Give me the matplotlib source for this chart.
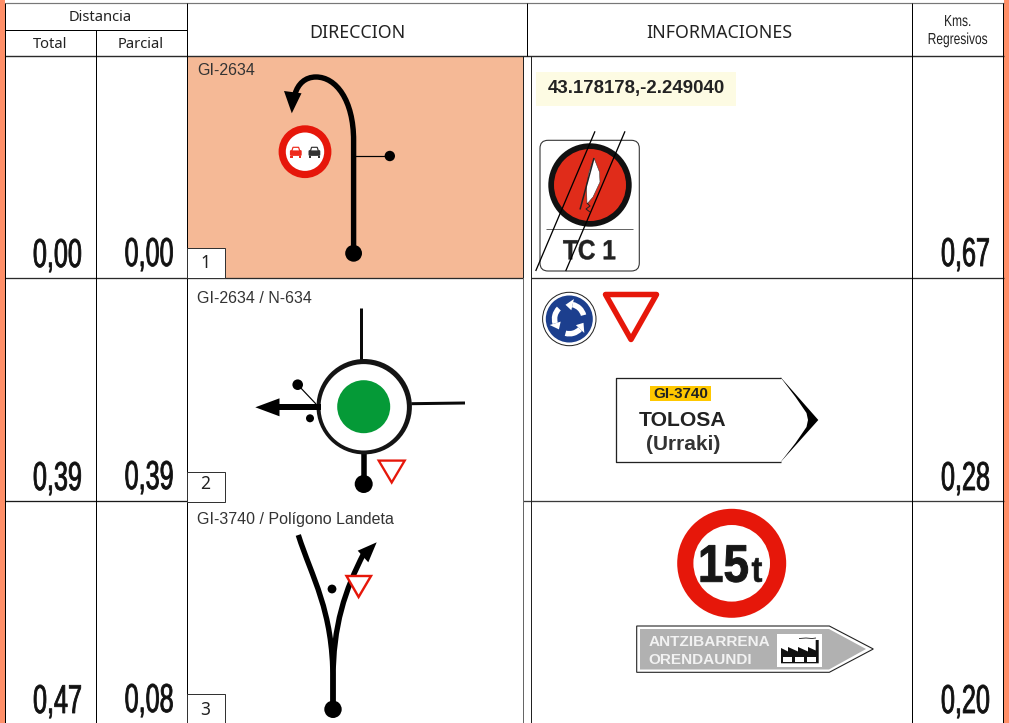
import numpy as np
import matplotlib
matplotlib.use('Agg')
import matplotlib.pyplot as plt
from matplotlib.patches import Circle, Rectangle, Polygon, PathPatch, FancyBboxPatch, Wedge
from matplotlib.path import Path
from matplotlib.patheffects import AbstractPathEffect
from matplotlib.transforms import Affine2D

# valores de la tabla
totales = ['0,00', '0,39', '0,47']
parciales = ['0,00', '0,39', '0,08']
regresivos = ['0,67', '0,28', '0,20']
numeros = ['1', '2', '3']
carreteras = ['GI-2634', 'GI-2634 / N-634', 'GI-3740 / Polígono Landeta']
coordenadas = '43.178178,-2.249040'
cabecera_dist = ['Distancia', 'Total', 'Parcial']
cabecera = ['DIRECCION', 'INFORMACIONES']
cabecera_kms = ['Kms.', 'Regresivos']
cartel_1 = ['GI-3740', 'TOLOSA', '(Urraki)']
cartel_2 = ['ANTZIBARRENA', 'ORENDAUNDI']
senal_tc = 'TC 1'
limite = ['15', 't']

ROJO = '#E6170A'
NEGRO = '#000000'
TEXTO = '#222222'
SANS = 'Liberation Sans'
HEAD = 'Noto Sans'


class Estrecho(AbstractPathEffect):
    # estrecha el texto en horizontal respecto a su centro (la fuente original es condensada)
    def __init__(self, sx, cx, grueso=0.0):
        super().__init__()
        self.sx = sx
        self.cx = cx
        self.grueso = grueso

    def draw_path(self, renderer, gc, tpath, affine, rgbFace=None):
        tr = affine + Affine2D().translate(-self.cx, 0).scale(self.sx, 1).translate(self.cx, 0)
        gc0 = renderer.new_gc()
        gc0.copy_properties(gc)
        if self.grueso > 0:
            gc0.set_linewidth(self.grueso)
            gc0.set_foreground(rgbFace)
        renderer.draw_path(gc0, tpath, tr, rgbFace)
        gc0.restore()


def px(v):
    return v * 0.72


fig = plt.figure(figsize=(10.09, 7.23), dpi=100, facecolor='white')
ax = fig.add_axes([0, 0, 1, 1])
ax.set_xlim(0, 1009)
ax.set_ylim(723, 0)
ax.axis('off')


def linea(xs, ys, lw=1.0, color=NEGRO, z=3, cap='butt'):
    ax.plot(xs, ys, color=color, lw=px(lw), solid_capstyle=cap, zorder=z)


def punto(x, y, r, color=NEGRO, z=6):
    ax.add_patch(Circle((x, y), r, fc=color, ec='none', zorder=z))


def poly(pts, fc=NEGRO, ec='none', lw=0.0, z=6, join='miter'):
    ax.add_patch(Polygon(pts, closed=True, fc=fc, ec=ec, lw=px(lw), zorder=z, joinstyle=join))


def curva(pts, codes, lw, z=5):
    ax.add_patch(PathPatch(Path(pts, codes), fc='none', ec=NEGRO, lw=px(lw), zorder=z, capstyle='butt', snap=False))


def condensado(x, y, s, size, sx, color='#111111', family=SANS, weight='normal', z=8, grueso=0.0):
    ax.text(x, y, s, fontsize=size, family=family, weight=weight, color=color, ha='center',
            va='baseline', zorder=z, path_effects=[Estrecho(sx, x, grueso)])


# bandas laterales
ax.add_patch(Rectangle((0, 0), 5, 723, fc='#FF8F68', ec='none', zorder=1))
ax.add_patch(Rectangle((1004, 0), 5, 723, fc='#FF8F68', ec='none', zorder=1))

# fondo de la primera fila
ax.add_patch(Rectangle((187, 56), 335.7, 222.3, fc='#F5B996', ec='none', zorder=1))

# rejilla
linea([5, 1004], [2.7, 2.7], 1.2, '#777777')
linea([5, 187], [29.5, 29.5], 1.0)
linea([5, 1004], [55.8, 55.8], 1.4, '#2a2a2a')
linea([5, 522.7], [278.3, 278.3], 1.3, '#2a2a2a')
linea([531.3, 1004], [278.3, 278.3], 1.3, '#2a2a2a')
linea([5, 224.5], [501.3, 501.3], 1.3, '#1a1a1a')
linea([522.7, 1004], [501.3, 501.3], 1.3, '#3a3a3a')
linea([5, 5], [2.7, 723], 1.0)
linea([95.5, 95.5], [29.5, 723], 1.0)
linea([186.8, 186.8], [2.7, 723], 1.0)
linea([526.7, 526.7], [2.7, 55.8], 1.0)
linea([522.7, 522.7], [55.8, 278.3], 1.0, '#222222')
linea([522.7, 522.7], [278.3, 723], 1.0, '#666666')
linea([531.3, 531.3], [55.8, 723], 1.0, '#222222')
linea([912.3, 912.3], [2.7, 723], 1.0)
linea([1003.4, 1003.4], [2.7, 723], 1.0)

# cabeceras
ax.text(99.7, 17.3, cabecera_dist[0], fontsize=10.6, family=HEAD, color=TEXTO, ha='center', va='center')
ax.text(49.7, 44.7, cabecera_dist[1], fontsize=10.6, family=HEAD, color=TEXTO, ha='center', va='center')
ax.text(140.3, 44.7, cabecera_dist[2], fontsize=10.6, family=HEAD, color=TEXTO, ha='center', va='center')
ax.text(357, 32.5, cabecera[0], fontsize=12.8, family=HEAD, color=TEXTO, ha='center', va='center')
ax.text(719.3, 32.5, cabecera[1], fontsize=12.8, family=HEAD, color=TEXTO, ha='center', va='center')
condensado(957.7, 26, cabecera_kms[0], 11.5, 0.75, TEXTO)
condensado(957.7, 44, cabecera_kms[1], 11.5, 0.75, TEXTO)

# distancias
base_total = [267, 490, 713]
base_parc = [266, 489, 712]
base_reg = [266, 490, 713]
for i in range(3):
    condensado(57.5, base_total[i], totales[i], 29, 0.625, grueso=0.6)
    condensado(149.2, base_parc[i], parciales[i], 29, 0.625, grueso=0.6)
    condensado(965.5, base_reg[i], regresivos[i], 29, 0.625, grueso=0.6)

# nombres de carretera y numero de casilla
base_car = [70.5, 298.3, 519.3]
base_num = [262.7, 484.3, 710.3]
caja_y = [248, 471.7, 694.3]
for i in range(3):
    ax.text(197, base_car[i], carreteras[i], fontsize=11.5, family=SANS, color='#333333', ha='left', va='center', zorder=8)
    ax.add_patch(Rectangle((186.8, caja_y[i]), 37.7, 30, fc='white', ec='#333333', lw=px(1), zorder=7))
    ax.text(205.3, base_num[i], numeros[i], fontsize=12.5, family=HEAD, color=TEXTO, ha='center', va='center', zorder=8)

# --- fila 1: direccion ---
M, L, C = Path.MOVETO, Path.LINETO, Path.CURVE4
curva([(353.6, 253), (353.6, 140.5), (353.6, 100), (336, 77), (316, 77), (305, 77), (298, 84), (295, 94)],
      [M, L, C, C, C, C, C, C], 5.4)
poly([(284, 91), (301.5, 93.3), (291.8, 113.3)])
punto(353.6, 253.3, 8.4)
linea([353.6, 390], [156, 156], 1.2)
punto(389.8, 156, 5.2)
# prohibido adelantar
ax.add_patch(Circle((305, 151.7), 26.4, fc=ROJO, ec='none', zorder=6))
ax.add_patch(Circle((305, 151.7), 19.2, fc='white', ec='none', zorder=6))
for cx, col in [(295.8, '#EE2A1C'), (314.4, '#333333')]:
    ax.add_patch(FancyBboxPatch((cx - 5.5, 150.5), 11, 5, boxstyle='round,pad=0.4,rounding_size=1.2',
                                fc=col, ec='none', zorder=7))
    poly([(cx - 4, 151), (cx - 2.8, 147.3), (cx + 2.8, 147.3), (cx + 4, 151)], fc='white', ec=col, lw=1.2, z=7)
    ax.add_patch(Rectangle((cx - 5.5, 155.5), 2.4, 2.2, fc=col, ec='none', zorder=7))
    ax.add_patch(Rectangle((cx + 3.1, 155.5), 2.4, 2.2, fc=col, ec='none', zorder=7))

# --- fila 1: informaciones ---
ax.add_patch(Rectangle((536, 72), 200, 34, fc='#FDFBE3', ec='none', zorder=2))
ax.text(636, 88.7, coordenadas, fontsize=13.4, family=SANS, weight='bold', color=TEXTO, ha='center', va='center', zorder=8)
ax.add_patch(FancyBboxPatch((548, 148.3), 83.3, 114.7, boxstyle='round,pad=8,rounding_size=8',
                            fc='white', ec='#333333', lw=px(1.1), zorder=3))
ax.add_patch(Circle((590, 185), 41.7, fc='#111111', ec='none', zorder=4))
ax.add_patch(Circle((590, 185), 36, fc='#E02C1A', ec='none', zorder=4))
linea([546, 633], [229, 229], 1, '#666666', z=4)
poly([(594, 158), (599.5, 172), (600, 182), (593, 197), (587, 204), (586.5, 186), (589, 172)],
     fc='white', ec='#333333', lw=0.5, z=5)
linea([594, 580], [158, 209.5], 1.5, '#222222', z=5)
linea([587, 590, 586, 590], [203, 206, 209, 212], 1.0, '#222222', z=5)
condensado(589.3, 259.3, senal_tc, 20, 0.88, TEXTO, weight='bold', z=6, grueso=0.3)
linea([595, 535.7], [131.3, 271], 1.3, NEGRO, z=7)
linea([625, 565.7], [131.3, 271], 1.3, NEGRO, z=7)

# --- fila 2: direccion ---
ax.add_patch(Circle((364.2, 406.7), 47.7, fc='#141414', ec='none', zorder=5))
ax.add_patch(Circle((363.7, 407.3), 43.2, fc='white', ec='none', zorder=5))
punto(363.7, 406.7, 26.5, '#059A37')
linea([361.3, 361.3], [307.7, 361], 3, '#0a0a0a', z=4)
linea([411.3, 465], [403.7, 403], 3, '#0a0a0a', z=4)
linea([363.7, 363.7], [453, 484], 5.5, z=4)
punto(363.7, 484, 9)
linea([321, 278], [407.3, 407.3], 6, z=6)
poly([(255.3, 407.3), (279.5, 398.3), (279.5, 416.3)])
linea([297.7, 316], [384.7, 404], 1.2, z=6)
punto(297.7, 384.7, 5.3)
punto(310, 418.3, 4)
poly([(378.7, 460.6), (404.7, 460.6), (391.7, 482.5)], fc='white', ec=ROJO, lw=2.3)

# --- fila 2: informaciones ---
ax.add_patch(Circle((569.3, 319), 26.7, fc='white', ec='#222222', lw=px(1), zorder=4))
ax.add_patch(Circle((569.3, 319), 23.5, fc='#1C3F8E', ec='none', zorder=4))
for ini in [-15, -135, -255]:
    fin = ini - 62
    ax.add_patch(Wedge((569.3, 319), 17.5, fin, ini, width=5.5, fc='white', ec='none', zorder=5))
    ang = np.radians([fin, fin - 28])
    poly([(569.3 + 9 * np.cos(ang[0]), 319 + 9 * np.sin(ang[0])),
          (569.3 + 20.5 * np.cos(ang[0]), 319 + 20.5 * np.sin(ang[0])),
          (569.3 + 14.7 * np.cos(ang[1]), 319 + 14.7 * np.sin(ang[1]))], fc='white', z=5)
poly([(605.5, 294.5), (656.5, 294.5), (631, 339.5)], fc='white', ec=ROJO, lw=5.5, join='round')
# cartel TOLOSA
poly([(780.7, 377.3), (818.3, 420), (780.7, 462)], fc=NEGRO, z=4)
poly([(616, 377.5), (780.7, 377.5), (795.5, 397), (806.5, 413), (808, 420), (806.5, 427), (795.5, 443),
      (780.7, 462), (616, 462)], fc='white', ec='none', z=4)
linea([780.7, 616, 616, 780.7], [377.5, 377.5, 462, 462], 1.3, '#222222', z=5)
ax.add_patch(Rectangle((650, 386), 61, 14.7, fc='#FFC800', ec='none', zorder=5))
ax.text(680.5, 394, cartel_1[0], fontsize=10.9, family=SANS, weight='bold', color=TEXTO, ha='center', va='center', zorder=8)
ax.text(682.8, 420.3, cartel_1[1], fontsize=15.2, family=SANS, weight='bold', color=TEXTO, ha='center', va='center', zorder=8)
ax.text(682.8, 444.3, cartel_1[2], fontsize=15, family=SANS, weight='bold', color='#333333', ha='center', va='center', zorder=8)

# --- fila 3: direccion ---
curva([(298.3, 535), (312, 578), (333, 610), (333, 680), (333, 705)], [M, C, C, C, L], 5.4)
curva([(333, 705), (333, 680), (333, 625), (345, 590), (364, 553)], [M, L, C, C, C], 5.4)
poly([(376.7, 542.3), (357.7, 550.7), (368.3, 562.3)])
punto(333, 709.3, 8.7)
punto(332, 589, 4.4)
poly([(346.5, 576), (371, 576), (358.6, 597), ], fc='white', ec=ROJO, lw=2.4, z=7)

# --- fila 3: informaciones ---
ax.add_patch(Circle((731.7, 563.3), 54.5, fc=ROJO, ec='none', zorder=4))
ax.add_patch(Circle((731.7, 563.3), 38.3, fc='white', ec='none', zorder=4))
condensado(723.5, 581.7, limite[0], 38, 0.87, '#161616', weight='bold', grueso=0.7)
condensado(757, 581.7, limite[1], 26, 0.9, '#161616', weight='bold', grueso=0.4)
# cartel gris
poly([(636.7, 626), (829.3, 626), (873.3, 649), (829.3, 672.3), (636.7, 672.3)], fc='white', ec='#222222', lw=1.1, z=4)
poly([(640, 629), (829, 629), (866, 649), (829, 669.5), (640, 669.5)], fc='#B1B1B1', z=4)
ax.text(648.3, 642.5, cartel_2[0], fontsize=11.1, family=SANS, weight='bold', color='#F2F2F2', ha='left', va='center', zorder=8)
ax.text(648.3, 660.1, cartel_2[1], fontsize=11.1, family=SANS, weight='bold', color='#F2F2F2', ha='left', va='center', zorder=8)
# icono de fabrica
ax.add_patch(Rectangle((777, 634), 45, 32.7, fc='white', ec='none', zorder=5))
poly([(781, 663.3), (781, 648), (788, 651.5), (788, 647), (798, 651.5), (798, 647), (808, 651.5), (808, 647),
      (815.7, 650.5), (815.7, 640), (818.7, 640), (818.7, 663.3)], fc='#111111', z=6)
for vx in [783, 795, 807]:
    ax.add_patch(Rectangle((vx, 656.7), 8.6, 5, fc='white', ec='none', zorder=7))
linea([799, 806, 812, 816], [638.5, 638, 638.5, 638], 0.8, '#111111', z=6)

fig.savefig('out.png', dpi=100)
